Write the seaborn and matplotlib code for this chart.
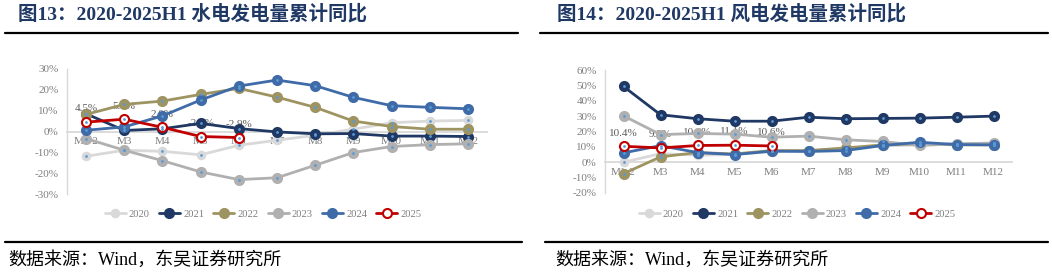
import numpy as np
import pandas as pd
import matplotlib
matplotlib.use("Agg")
import matplotlib.pyplot as plt
from matplotlib.lines import Line2D
import seaborn as sns

months = ["M1-2", "M3", "M4", "M5", "M6", "M7", "M8", "M9", "M10", "M11", "M12"]
years = ["2020", "2021", "2022", "2023", "2024", "2025"]

hydro_2020 = [-11.9, -9.0, -9.5, -11.2, -6.6, -4.2, -1.8, 1.1, 4.2, 5.0, 5.3]
hydro_2021 = [8.5, 0.5, 1.3, 3.9, 1.4, -0.2, -1.1, -1.0, -2.2, -2.2, -2.4]
hydro_2022 = [8.2, 13.0, 14.6, 17.8, 20.7, 16.5, 11.6, 5.0, 2.4, 1.1, 1.1]
hydro_2023 = [-3.4, -9.0, -14.0, -19.4, -23.1, -22.2, -16.2, -10.1, -7.2, -6.3, -5.9]
hydro_2024 = [0.6, 2.2, 7.5, 15.1, 21.8, 24.7, 22.0, 16.4, 12.4, 11.6, 10.9]
hydro_2025 = [4.5, 5.9, 2.0, -2.4, -2.9]

wind_2020 = [0.0, 5.6, 4.6, 5.0, 7.0, 7.5, 9.0, 10.5, 11.3, 12.0, 12.5]
wind_2021 = [49.3, 30.9, 28.3, 26.7, 26.7, 29.3, 28.3, 28.5, 28.7, 29.3, 30.0]
wind_2022 = [-7.4, 3.5, 6.3, 5.4, 7.6, 7.6, 9.3, 11.3, 12.0, 11.3, 11.3]
wind_2023 = [30.2, 18.0, 18.7, 18.3, 16.3, 17.0, 14.6, 13.5, 10.9, 12.0, 12.4]
wind_2024 = [6.1, 10.8, 6.3, 5.0, 7.2, 7.0, 7.6, 10.9, 13.0, 11.5, 11.3]
wind_2025 = [10.4, 9.3, 10.9, 11.1, 10.6]

hydro_yticks = [-30, -20, -10, 0, 10, 20, 30]
wind_yticks = [-20, -10, 0, 10, 20, 30, 40, 50, 60]

titles = ["图13：2020-2025H1 水电发电量累计同比", "图14：2020-2025H1 风电发电量累计同比"]
source = "数据来源：Wind，东吴证券研究所"

colors = {"2020": "#D9D9D9", "2021": "#1F3864", "2022": "#9E9462",
          "2023": "#B0B0B0", "2024": "#3F6CA8", "2025": "#C00000"}
faces = {"2020": "#D9D9D9", "2021": "#1F3864", "2022": "#9E9462",
         "2023": "#B0B0B0", "2024": "#3F6CA8", "2025": "#FFFFFF"}
dot = "#5B9BD5"

sns.set_theme(style="white")
plt.rcParams['font.family'] = ['Liberation Serif', 'Noto Sans CJK SC', 'DejaVu Sans']

fig = plt.figure(figsize=(10.52, 2.76), dpi=100)
W, H = 1052, 276

def rect(x0, x1, ytop, ybot):
    return [x0 / W, 1 - ybot / H, (x1 - x0) / W, (ybot - ytop) / H]

ax1 = fig.add_axes(rect(67, 487, 69, 194))
ax2 = fig.add_axes(rect(605, 1012, 70, 193))

def build(series):
    rows = []
    for y, vals in zip(years, series):
        for i, v in enumerate(vals):
            rows.append({"year": y, "idx": i, "month": months[i], "value": v})
    return pd.DataFrame(rows)

hydro_df = build([hydro_2020, hydro_2021, hydro_2022, hydro_2023, hydro_2024, hydro_2025])
wind_df = build([wind_2020, wind_2021, wind_2022, wind_2023, wind_2024, wind_2025])

tick_color = "#7F7F7F"
axis_color = "#D9D9D9"

def draw(ax, df, yticks, ylim):
    for y in years:
        sub = df[df["year"] == y]
        ms = 5.4 if y == "2020" else 6.5
        sns.lineplot(data=sub, x="idx", y="value", color=colors[y], linewidth=2.0,
                     marker="o", markersize=ms, markerfacecolor=faces[y],
                     markeredgecolor=colors[y], markeredgewidth=1.5,
                     sort=False, ax=ax, legend=False, zorder=3)
        sns.scatterplot(data=sub, x="idx", y="value", color=dot, s=4, linewidth=0,
                        ax=ax, legend=False, zorder=4)
    last = df[df["year"] == "2025"]
    for _, r in last.iterrows():
        ax.annotate(f"{r['value']:.1f}%", (r["idx"], r["value"]), xytext=(0, 9.5),
                    textcoords="offset points", ha="center", va="center",
                    fontsize=8, color="#595959", zorder=2)
    ax.set_xlim(-0.5, len(months) - 0.5)
    ax.set_ylim(*ylim)
    ax.set_xticks(range(len(months)))
    ax.set_xticklabels(months)
    ax.set_yticks(yticks)
    ax.set_yticklabels([f"{t}%" for t in yticks])
    ax.set_xlabel("")
    ax.set_ylabel("")
    ax.tick_params(axis="both", length=0, labelsize=8, colors=tick_color)
    ax.tick_params(axis="y", pad=6)
    ax.tick_params(axis="x", pad=4)
    for s in ["top", "right"]:
        ax.spines[s].set_visible(False)
    ax.spines["bottom"].set_position(("data", 0))
    ax.spines["bottom"].set_color(axis_color)
    ax.spines["bottom"].set_linewidth(1.3)
    ax.spines["bottom"].set_zorder(1)
    ax.spines["left"].set_color(axis_color)
    ax.spines["left"].set_linewidth(1.0)
    ax.patch.set_alpha(0)
    ax.grid(False)

draw(ax1, hydro_df, hydro_yticks, (-30, 30))
draw(ax2, wind_df, wind_yticks, (-20, 60))

handles = []
for y in years:
    ms = 5.4 if y == "2020" else 6.5
    handles.append(Line2D([0], [0], color=colors[y], linewidth=2.0, marker="o",
                          markersize=ms, markerfacecolor=faces[y],
                          markeredgecolor=colors[y], markeredgewidth=1.5))

for cx in [263 / W, 797 / W]:
    fig.legend(handles, years, loc="center", bbox_to_anchor=(cx, 1 - 214 / H),
               ncol=6, frameon=False, fontsize=7.6, labelcolor=tick_color,
               handlelength=2.0, handletextpad=0.3, columnspacing=0.85,
               borderaxespad=0, borderpad=0)

title_color = "#1F3864"
for tx, t in zip([18, 557], titles):
    fig.text(tx / W, 1 - 14 / H, t, fontsize=14, fontweight="bold", color=title_color,
             ha="left", va="center")

for (x0, x1) in [(5, 518), (540, 1048)]:
    fig.add_artist(Line2D([x0 / W, x1 / W], [1 - 33 / H, 1 - 33 / H], color="black", linewidth=1.6))
for (x0, x1) in [(5, 522), (545, 1048)]:
    fig.add_artist(Line2D([x0 / W, x1 / W], [1 - 242 / H, 1 - 242 / H], color="black", linewidth=1.6))

for tx in [8, 555]:
    fig.text(tx / W, 1 - 260 / H, source, fontsize=13, color="black", ha="left", va="center")

fig.savefig("out.png", dpi=100)
